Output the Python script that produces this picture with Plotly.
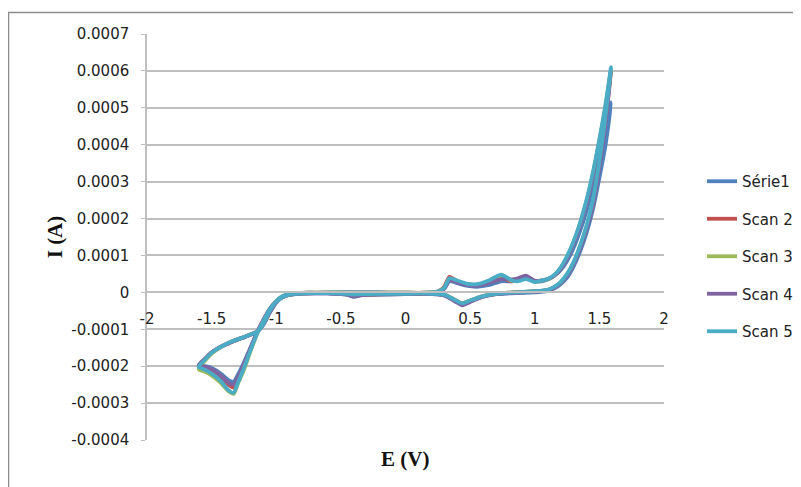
import plotly.graph_objects as go

# Potential sweep (V), shared by every scan: 0 -> 1.59 -> -1.6 -> 0
E_SWEEP = [
    0.0, 0.15, 0.25, 0.3, 0.34, 0.4, 0.47, 0.55, 0.65, 0.74, 0.82, 0.87, 0.93, 1.0,
    1.05, 1.1, 1.15, 1.2, 1.25, 1.3, 1.35, 1.4, 1.45, 1.5, 1.55, 1.59,
    1.55, 1.5, 1.45, 1.4, 1.35, 1.3, 1.25, 1.2, 1.15, 1.1, 1.0, 0.85, 0.7, 0.6, 0.5,
    0.44, 0.38, 0.3, 0.15, 0.0, -0.2, -0.35, -0.4, -0.45, -0.6, -0.75, -0.9, -0.95,
    -1.0, -1.05, -1.1, -1.15, -1.2, -1.25, -1.3, -1.33, -1.37, -1.43, -1.5, -1.55, -1.6,
    -1.55, -1.5, -1.45, -1.4, -1.35, -1.3, -1.25, -1.2, -1.15, -1.1, -1.05, -1.0,
    -0.95, -0.9, -0.8, -0.65, -0.45, -0.25, 0.0,
]

# Currents in units of 1e-4 A, one value per sweep point
I_SERIE1 = [
    -0.02, -0.02, 0.0, 0.1, 0.3, 0.25, 0.18, 0.15, 0.2, 0.3, 0.3, 0.35, 0.4, 0.3,
    0.3, 0.35, 0.45, 0.6, 0.85, 1.2, 1.65, 2.2, 2.85, 3.6, 4.4, 5.15,
    4.05, 3.1, 2.25, 1.6, 1.1, 0.7, 0.4, 0.22, 0.1, 0.04, 0.0, -0.02, -0.05, -0.12, -0.25,
    -0.32, -0.22, -0.08, -0.04, -0.05, -0.06, -0.08, -0.12, -0.07, -0.03, -0.02, -0.07, -0.12,
    -0.25, -0.45, -0.75, -1.1, -1.5, -1.9, -2.25, -2.42, -2.38, -2.2, -2.05, -2.0, -1.97,
    -1.8, -1.63, -1.52, -1.43, -1.35, -1.28, -1.22, -1.15, -1.07, -0.88, -0.55, -0.28,
    -0.13, -0.07, -0.04, -0.02, -0.01, -0.01, -0.02,
]
I_SCAN2 = [
    -0.01, -0.01, 0.02, 0.15, 0.42, 0.3, 0.22, 0.2, 0.28, 0.38, 0.3, 0.33, 0.42, 0.3,
    0.32, 0.36, 0.45, 0.65, 0.95, 1.35, 1.85, 2.45, 3.2, 4.1, 5.05, 6.0,
    4.75, 3.45, 2.4, 1.75, 1.22, 0.78, 0.47, 0.26, 0.13, 0.06, 0.03, 0.0, -0.04, -0.1, -0.22,
    -0.3, -0.2, -0.06, -0.03, -0.04, -0.05, -0.06, -0.08, -0.05, -0.02, -0.01, -0.06, -0.12,
    -0.24, -0.45, -0.75, -1.1, -1.55, -2.0, -2.4, -2.58, -2.5, -2.3, -2.12, -2.05, -2.0,
    -1.8, -1.63, -1.51, -1.42, -1.34, -1.27, -1.21, -1.14, -1.07, -0.87, -0.52, -0.25,
    -0.11, -0.06, -0.03, -0.01, 0.0, 0.0, -0.01,
]
I_SCAN3 = [
    -0.01, -0.01, 0.02, 0.12, 0.37, 0.3, 0.22, 0.2, 0.3, 0.42, 0.32, 0.32, 0.4, 0.3,
    0.32, 0.35, 0.45, 0.65, 0.95, 1.35, 1.85, 2.45, 3.2, 4.1, 5.1, 6.05,
    4.8, 3.5, 2.45, 1.78, 1.24, 0.8, 0.48, 0.27, 0.14, 0.07, 0.03, 0.0, -0.04, -0.1, -0.22,
    -0.3, -0.2, -0.06, -0.03, -0.04, -0.05, -0.06, -0.07, -0.05, -0.02, -0.01, -0.06, -0.12,
    -0.25, -0.46, -0.78, -1.15, -1.6, -2.1, -2.5, -2.75, -2.68, -2.45, -2.25, -2.15, -2.08,
    -1.85, -1.66, -1.53, -1.43, -1.35, -1.28, -1.21, -1.14, -1.07, -0.86, -0.5, -0.24,
    -0.1, -0.05, -0.03, -0.01, 0.0, 0.0, -0.01,
]
I_SCAN4 = [
    -0.02, -0.02, 0.0, 0.1, 0.33, 0.28, 0.2, 0.18, 0.26, 0.36, 0.35, 0.38, 0.45, 0.32,
    0.32, 0.36, 0.45, 0.63, 0.93, 1.32, 1.82, 2.42, 3.15, 4.05, 5.05, 6.0,
    4.7, 3.4, 2.38, 1.72, 1.2, 0.77, 0.46, 0.26, 0.13, 0.06, 0.02, -0.01, -0.05, -0.12, -0.26,
    -0.35, -0.24, -0.08, -0.04, -0.05, -0.06, -0.08, -0.11, -0.06, -0.03, -0.02, -0.07, -0.13,
    -0.25, -0.46, -0.76, -1.1, -1.52, -1.95, -2.32, -2.5, -2.45, -2.25, -2.08, -2.02, -1.98,
    -1.8, -1.63, -1.52, -1.43, -1.35, -1.28, -1.22, -1.15, -1.07, -0.87, -0.53, -0.26,
    -0.12, -0.06, -0.03, -0.02, -0.01, -0.01, -0.02,
]
I_SCAN5 = [
    -0.01, -0.01, 0.02, 0.12, 0.38, 0.32, 0.24, 0.22, 0.33, 0.48, 0.33, 0.3, 0.36, 0.28,
    0.32, 0.36, 0.47, 0.67, 0.98, 1.38, 1.88, 2.5, 3.25, 4.15, 5.15, 6.1,
    4.85, 3.55, 2.5, 1.8, 1.26, 0.82, 0.5, 0.28, 0.15, 0.07, 0.03, 0.0, -0.04, -0.1, -0.22,
    -0.3, -0.2, -0.06, -0.03, -0.04, -0.04, -0.05, -0.06, -0.04, -0.02, -0.01, -0.06, -0.12,
    -0.25, -0.46, -0.78, -1.13, -1.58, -2.05, -2.48, -2.72, -2.65, -2.4, -2.2, -2.1, -2.02,
    -1.82, -1.64, -1.52, -1.42, -1.34, -1.27, -1.21, -1.14, -1.07, -0.86, -0.5, -0.24,
    -0.1, -0.05, -0.03, -0.01, 0.0, 0.0, -0.01,
]

SERIES_NAMES = ["Série1", "Scan 2", "Scan 3", "Scan 4", "Scan 5"]
SERIES_VALUES = [I_SERIE1, I_SCAN2, I_SCAN3, I_SCAN4, I_SCAN5]
COLORS = ["#4F81BD", "#C0504D", "#9BBB59", "#8064A2", "#4BACC6"]

X_TICKS = [-2, -1.5, -1, -0.5, 0, 0.5, 1, 1.5, 2]
X_TICK_LABELS = ["-2", "-1.5", "-1", "-0.5", "0", "0.5", "1", "1.5", "2"]
Y_TICKS = [-0.0004, -0.0003, -0.0002, -0.0001, 0, 0.0001, 0.0002, 0.0003, 0.0004,
           0.0005, 0.0006, 0.0007]
Y_TICK_LABELS = ["-0.0004", "-0.0003", "-0.0002", "-0.0001", "0", "0.0001", "0.0002",
                 "0.0003", "0.0004", "0.0005", "0.0006", "0.0007"]
X_TITLE = "E (V)"
Y_TITLE = "I (A)"

fig = go.Figure()
for name, vals, col in zip(SERIES_NAMES, SERIES_VALUES, COLORS):
    fig.add_trace(go.Scatter(
        x=E_SWEEP, y=[v * 1e-4 for v in vals], mode="lines", name=name,
        legendgroup=name,
        line=dict(color=col, width=3.8, shape="spline", smoothing=0.7),
    ))

# The page body adds an 8px offset; all pixel targets below are screenshot pixels.
OFF = 8
W, H = 801 - OFF, 487 - OFF
L, T = 147 - OFF, 34 - OFF
R = W - (664 - OFF)
B = H - (440 - OFF)
pw, ph = W - L - R, H - T - B


def px_x(p):
    return (p - OFF - L) / pw


def px_y(p):
    return 1 - (p - OFF - T) / ph


zero_frac = (0 - (-0.0004)) / (0.0007 - (-0.0004))

font_fam = "DejaVu Sans, Open Sans, sans-serif"
title_font = dict(family="Liberation Serif, serif", size=21, color="#111")
fig.update_layout(
    width=W, height=H,
    margin=dict(l=L, r=R, t=T, b=B, pad=0, autoexpand=False),
    paper_bgcolor="white", plot_bgcolor="white",
    font=dict(family=font_fam, size=15, color="#222"),
    showlegend=True,
    legend=dict(
        x=px_x(702), xanchor="left",
        y=px_y(165), yanchor="top",
        font=dict(family=font_fam, size=15, color="#222"),
        tracegroupgap=15, bgcolor="rgba(0,0,0,0)",
    ),
    xaxis=dict(
        range=[-2, 2], tickvals=X_TICKS, ticktext=X_TICK_LABELS,
        showgrid=False, zeroline=False, automargin=False,
        showline=True, linecolor="#BFBFBF", linewidth=1.5,
        anchor="free", position=zero_frac,
        ticks="", ticklabelstandoff=13,
    ),
    yaxis=dict(
        range=[-0.0004, 0.0007], tickvals=Y_TICKS, ticktext=Y_TICK_LABELS,
        showgrid=True, gridcolor="#BFBFBF", gridwidth=1.5, automargin=False,
        zeroline=False, showline=True, linecolor="#BFBFBF", linewidth=1.5,
        ticks="outside", ticklen=4, tickcolor="#BFBFBF", ticklabelstandoff=9,
        title=dict(text="<b>" + Y_TITLE + "</b>", font=title_font, standoff=3),
    ),
)

fig.add_annotation(text="<b>" + X_TITLE + "</b>", xref="paper", yref="paper",
                   x=px_x(405), y=px_y(459), xanchor="center", yanchor="middle",
                   showarrow=False, font=title_font)

# Outer chart frame (top and left edges visible)
fig.add_shape(type="rect", xref="paper", yref="paper",
              x0=px_x(8.5), x1=px_x(815),
              y0=px_y(500), y1=px_y(12.5),
              line=dict(color="#8C8C8C", width=1.5), layer="below")

fig.write_html("out.html")
